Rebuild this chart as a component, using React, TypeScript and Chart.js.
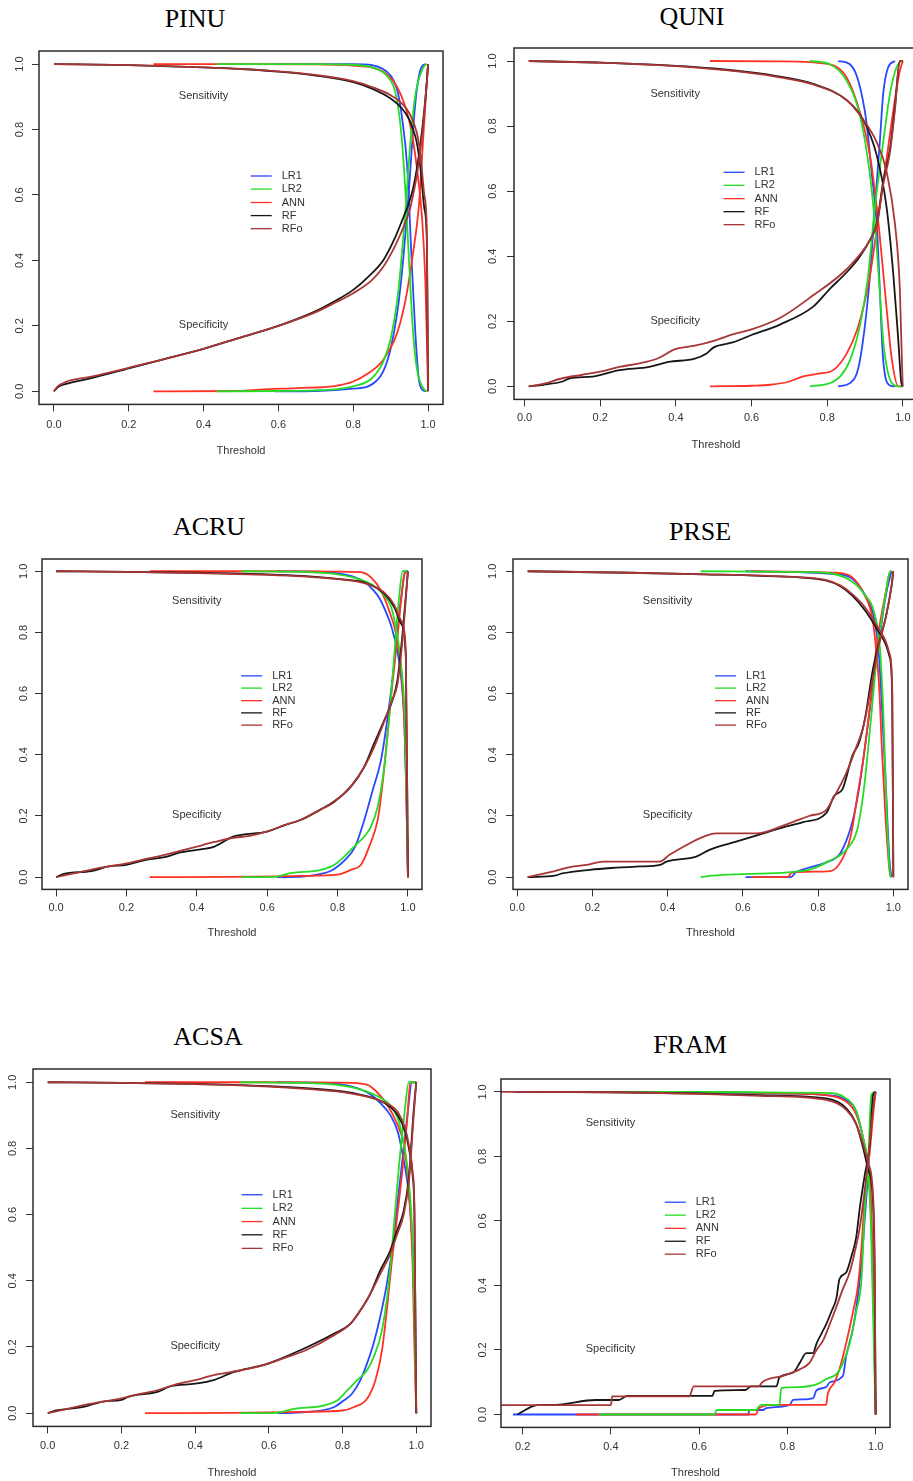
import React, { useEffect, useRef } from 'react';
import { Chart, registerables } from 'chart.js';

Chart.register(...registerables);
Chart.defaults.font.family = '"Liberation Sans", Arial, sans-serif';

// ---------------- tick labels ----------------
const TICKS_0_1 = [0, 0.2, 0.4, 0.6, 0.8, 1.0];
const TICKS_02_1 = [0.2, 0.4, 0.6, 0.8, 1.0];
const Y_TICKS = [0, 0.2, 0.4, 0.6, 0.8, 1.0];
const MODEL_NAMES = ['LR1', 'LR2', 'ANN', 'RF', 'RFo'];

// ---------------- PINU ----------------
const PINU_LR1_SENS = [[0.59,1],[0.8,1],[0.85,0.997],[0.88,0.985],[0.9,0.965],[0.91,0.945],[0.92,0.91],[0.93,0.84],[0.944,0.69],[0.957,0.38],[0.966,0.18],[0.975,0.04],[0.985,0.005],[0.995,0]];
const PINU_LR1_SPEC = [[0.59,0],[0.7,0.001],[0.8,0.008],[0.84,0.015],[0.86,0.03],[0.88,0.06],[0.9,0.13],[0.92,0.26],[0.935,0.42],[0.948,0.6],[0.957,0.75],[0.966,0.88],[0.975,0.96],[0.985,0.995],[0.995,1]];
const PINU_LR2_SENS = [[0.435,1],[0.7,1],[0.8,0.998],[0.85,0.99],[0.88,0.975],[0.9,0.95],[0.91,0.925],[0.92,0.87],[0.93,0.77],[0.94,0.6],[0.95,0.38],[0.96,0.18],[0.97,0.07],[0.98,0.025],[0.99,0.005],[0.997,0]];
const PINU_LR2_SPEC = [[0.435,0],[0.6,0.001],[0.7,0.003],[0.75,0.006],[0.8,0.015],[0.85,0.04],[0.88,0.09],[0.9,0.16],[0.92,0.3],[0.93,0.42],[0.94,0.56],[0.95,0.72],[0.96,0.85],[0.97,0.93],[0.98,0.97],[0.99,0.995],[0.997,1]];
const PINU_ANN_SENS = [[0.266,1],[0.5,1],[0.7,0.999],[0.8,0.995],[0.88,0.977],[0.926,0.91],[0.953,0.81],[0.97,0.685],[0.984,0.53],[0.993,0.33],[0.998,0.1],[1.0,0]];
const PINU_ANN_SPEC = [[0.266,0],[0.5,0.001],[0.55,0.005],[0.65,0.01],[0.75,0.016],[0.8,0.03],[0.84,0.055],[0.88,0.096],[0.917,0.177],[0.94,0.28],[0.957,0.4],[0.975,0.56],[0.988,0.79],[1.0,1]];
const PINU_RF_SENS = [[0,1],[0.2,0.997],[0.4,0.99],[0.5,0.985],[0.6,0.977],[0.7,0.965],[0.8,0.945],[0.85,0.925],[0.9,0.895],[0.93,0.865],[0.95,0.83],[0.96,0.8],[0.97,0.76],[0.98,0.68],[0.99,0.56],[0.997,0.45],[1.0,0]];
const PINU_RF_SPEC = [[0,0],[0.01,0.012],[0.03,0.022],[0.1,0.04],[0.2,0.07],[0.3,0.1],[0.4,0.13],[0.5,0.165],[0.6,0.2],[0.7,0.245],[0.75,0.275],[0.8,0.31],[0.84,0.35],[0.88,0.4],[0.91,0.465],[0.93,0.52],[0.95,0.58],[0.96,0.62],[0.97,0.68],[0.98,0.76],[0.99,0.86],[0.997,0.95],[1.0,1]];
const PINU_RFO_SENS = [[0,1],[0.2,0.997],[0.4,0.99],[0.6,0.978],[0.7,0.967],[0.8,0.948],[0.85,0.93],[0.9,0.905],[0.93,0.88],[0.95,0.85],[0.97,0.79],[0.98,0.72],[0.99,0.6],[0.997,0.48],[1.0,0]];
const PINU_RFO_SPEC = [[0,0],[0.01,0.015],[0.03,0.028],[0.1,0.045],[0.2,0.072],[0.3,0.1],[0.4,0.13],[0.5,0.165],[0.6,0.2],[0.7,0.242],[0.75,0.27],[0.8,0.3],[0.85,0.34],[0.88,0.38],[0.91,0.44],[0.93,0.49],[0.95,0.55],[0.96,0.6],[0.97,0.66],[0.98,0.74],[0.99,0.85],[0.997,0.95],[1.0,1]];

// ---------------- QUNI ----------------
const QUNI_LR1_SENS = [[0.829,1],[0.86,0.99],[0.882,0.94],[0.904,0.81],[0.918,0.65],[0.931,0.5],[0.939,0.3],[0.948,0.08],[0.966,0.003],[0.979,0]];
const QUNI_LR1_SPEC = [[0.829,0],[0.86,0.01],[0.882,0.055],[0.9,0.19],[0.913,0.34],[0.926,0.55],[0.939,0.75],[0.948,0.9],[0.961,0.98],[0.979,1]];
const QUNI_LR2_SENS = [[0.754,1],[0.807,0.99],[0.851,0.94],[0.887,0.83],[0.913,0.65],[0.926,0.5],[0.939,0.29],[0.948,0.14],[0.961,0.04],[0.975,0.005],[0.988,0],[0.996,0]];
const QUNI_LR2_SPEC = [[0.754,0],[0.807,0.01],[0.834,0.03],[0.86,0.08],[0.887,0.19],[0.908,0.34],[0.926,0.55],[0.948,0.75],[0.966,0.9],[0.983,0.98],[0.996,1]];
const QUNI_ANN_SENS = [[0.49,1],[0.675,0.999],[0.807,0.99],[0.851,0.95],[0.887,0.84],[0.913,0.71],[0.931,0.55],[0.944,0.4],[0.957,0.24],[0.97,0.09],[0.988,0],[1.0,0]];
const QUNI_ANN_SPEC = [[0.49,0],[0.6,0.002],[0.65,0.005],[0.7,0.015],[0.734,0.03],[0.781,0.04],[0.816,0.05],[0.851,0.1],[0.878,0.17],[0.895,0.24],[0.913,0.34],[0.939,0.55],[0.957,0.7],[0.975,0.85],[0.992,0.97],[1.0,1]];
const QUNI_RF_SENS = [[0.011,1],[0.2,0.995],[0.4,0.985],[0.5,0.977],[0.6,0.965],[0.675,0.952],[0.763,0.93],[0.851,0.88],[0.895,0.82],[0.931,0.71],[0.957,0.55],[0.975,0.34],[0.988,0.14],[0.996,0.01],[1.0,0]];
const QUNI_RF_SPEC = [[0.011,0],[0.05,0.005],[0.1,0.015],[0.12,0.025],[0.18,0.03],[0.25,0.05],[0.33,0.06],[0.38,0.075],[0.45,0.085],[0.48,0.1],[0.5,0.12],[0.55,0.135],[0.6,0.158],[0.675,0.19],[0.763,0.245],[0.807,0.3],[0.851,0.35],[0.887,0.4],[0.913,0.45],[0.931,0.5],[0.948,0.63],[0.966,0.73],[0.979,0.86],[0.992,1],[1.0,1]];
const QUNI_RFO_SENS = [[0.011,1],[0.2,0.995],[0.4,0.984],[0.5,0.975],[0.6,0.963],[0.675,0.95],[0.763,0.928],[0.851,0.88],[0.895,0.82],[0.931,0.75],[0.957,0.66],[0.979,0.5],[0.992,0.3],[0.999,0.02],[1.0,0]];
const QUNI_RFO_SPEC = [[0.011,0],[0.05,0.008],[0.1,0.025],[0.15,0.035],[0.2,0.045],[0.25,0.06],[0.3,0.07],[0.35,0.085],[0.4,0.115],[0.45,0.125],[0.5,0.14],[0.55,0.16],[0.6,0.175],[0.675,0.21],[0.763,0.28],[0.851,0.36],[0.913,0.45],[0.931,0.5],[0.948,0.62],[0.966,0.72],[0.979,0.85],[0.992,1],[1.0,1]];

// ---------------- ACRU ----------------
const ACRU_LR1_SENS = [[0.627,1],[0.75,0.998],[0.8,0.994],[0.85,0.98],[0.88,0.962],[0.9,0.94],[0.92,0.91],[0.94,0.86],[0.95,0.83],[0.96,0.79],[0.97,0.74],[0.98,0.66],[0.99,0.5],[0.995,0.3],[1.0,0]];
const ACRU_LR1_SPEC = [[0.627,0],[0.7,0.002],[0.75,0.01],[0.78,0.02],[0.8,0.035],[0.82,0.055],[0.85,0.1],[0.876,0.187],[0.9,0.285],[0.923,0.38],[0.942,0.52],[0.96,0.687],[0.974,0.85],[0.985,0.95],[0.992,1],[1.0,1]];
const ACRU_LR2_SENS = [[0.527,1],[0.7,0.998],[0.8,0.99],[0.85,0.978],[0.9,0.955],[0.93,0.925],[0.95,0.89],[0.96,0.85],[0.97,0.79],[0.98,0.7],[0.99,0.55],[0.995,0.35],[1.0,0]];
const ACRU_LR2_SPEC = [[0.527,0],[0.62,0.001],[0.667,0.013],[0.752,0.024],[0.79,0.04],[0.819,0.067],[0.847,0.1],[0.876,0.133],[0.895,0.165],[0.914,0.23],[0.933,0.361],[0.947,0.524],[0.96,0.709],[0.974,0.904],[0.985,1],[1.0,1]];
const ACRU_ANN_SENS = [[0.266,1],[0.6,1],[0.8,0.999],[0.866,0.997],[0.895,0.98],[0.923,0.937],[0.947,0.87],[0.966,0.796],[0.98,0.687],[0.99,0.5],[0.995,0.3],[1.0,0]];
const ACRU_ANN_SPEC = [[0.266,0],[0.5,0.001],[0.7,0.004],[0.8,0.008],[0.838,0.024],[0.866,0.04],[0.89,0.1],[0.914,0.187],[0.928,0.306],[0.942,0.47],[0.956,0.633],[0.97,0.78],[0.98,0.9],[0.99,0.99],[1.0,1]];
const ACRU_RF_SENS = [[0,1],[0.2,0.998],[0.4,0.995],[0.6,0.99],[0.7,0.985],[0.8,0.975],[0.885,0.96],[0.933,0.926],[0.961,0.883],[0.98,0.83],[0.994,0.72],[1.0,0]];
const ACRU_RF_SPEC = [[0,0],[0.02,0.01],[0.1,0.02],[0.15,0.035],[0.2,0.04],[0.25,0.055],[0.315,0.067],[0.35,0.08],[0.4,0.089],[0.45,0.1],[0.505,0.133],[0.6,0.149],[0.65,0.17],[0.695,0.187],[0.75,0.22],[0.79,0.247],[0.838,0.296],[0.876,0.361],[0.904,0.437],[0.933,0.513],[0.956,0.578],[0.97,0.643],[0.985,0.8],[1.0,1]];
const ACRU_RFO_SENS = [[0,1],[0.2,0.998],[0.4,0.994],[0.6,0.988],[0.7,0.983],[0.8,0.974],[0.885,0.958],[0.933,0.93],[0.961,0.89],[0.98,0.84],[0.994,0.74],[1.0,0]];
const ACRU_RFO_SPEC = [[0,0],[0.05,0.012],[0.1,0.025],[0.15,0.035],[0.2,0.045],[0.25,0.058],[0.3,0.07],[0.35,0.085],[0.4,0.1],[0.45,0.115],[0.5,0.128],[0.55,0.135],[0.6,0.15],[0.65,0.17],[0.7,0.19],[0.75,0.22],[0.79,0.245],[0.84,0.3],[0.876,0.36],[0.904,0.425],[0.933,0.51],[0.956,0.58],[0.97,0.63],[0.985,0.78],[1.0,1]];

// ---------------- PRSE ----------------
const PRSE_LR1_SENS = [[0.607,1],[0.85,0.99],[0.891,0.975],[0.926,0.92],[0.95,0.84],[0.962,0.72],[0.97,0.55],[0.98,0.3],[0.99,0.05],[0.995,0]];
const PRSE_LR1_SPEC = [[0.607,0],[0.728,0],[0.74,0.015],[0.772,0.03],[0.825,0.05],[0.86,0.08],[0.891,0.18],[0.909,0.29],[0.926,0.44],[0.944,0.61],[0.962,0.77],[0.98,0.92],[0.995,1]];
const PRSE_LR2_SENS = [[0.488,1],[0.7,0.998],[0.82,0.995],[0.891,0.966],[0.926,0.92],[0.948,0.87],[0.965,0.74],[0.974,0.52],[0.983,0.19],[0.992,0.005],[0.995,0]];
const PRSE_LR2_SPEC = [[0.488,0],[0.52,0.005],[0.6,0.01],[0.772,0.023],[0.825,0.05],[0.878,0.094],[0.905,0.16],[0.922,0.29],[0.94,0.51],[0.957,0.73],[0.975,0.89],[0.993,1],[0.995,1]];
const PRSE_ANN_SENS = [[0.622,1],[0.85,0.995],[0.891,0.98],[0.92,0.93],[0.944,0.85],[0.953,0.76],[0.962,0.63],[0.97,0.41],[0.979,0.2],[0.992,0.005],[0.995,0]];
const PRSE_ANN_SPEC = [[0.622,0],[0.72,0.001],[0.73,0.015],[0.833,0.02],[0.86,0.05],[0.886,0.13],[0.905,0.27],[0.922,0.4],[0.94,0.58],[0.957,0.77],[0.983,0.95],[0.992,1],[0.995,1]];
const PRSE_RF_SENS = [[0.028,1],[0.3,0.995],[0.5,0.99],[0.65,0.985],[0.82,0.97],[0.86,0.95],[0.891,0.92],[0.926,0.87],[0.962,0.8],[0.98,0.76],[0.99,0.72],[0.997,0.6],[1.0,0]];
const PRSE_RF_SPEC = [[0.028,0],[0.1,0.005],[0.12,0.012],[0.193,0.024],[0.25,0.03],[0.326,0.035],[0.38,0.04],[0.397,0.051],[0.476,0.067],[0.511,0.089],[0.582,0.116],[0.646,0.14],[0.7,0.16],[0.76,0.18],[0.822,0.21],[0.843,0.266],[0.865,0.288],[0.891,0.397],[0.909,0.44],[0.926,0.527],[0.944,0.668],[0.962,0.766],[0.98,0.85],[0.995,0.95],[1.0,1]];
const PRSE_RFO_SENS = [[0.028,1],[0.3,0.995],[0.5,0.99],[0.7,0.983],[0.82,0.972],[0.86,0.953],[0.891,0.925],[0.926,0.88],[0.962,0.81],[0.98,0.77],[0.99,0.73],[0.997,0.62],[1.0,0]];
const PRSE_RFO_SPEC = [[0.028,0],[0.1,0.02],[0.15,0.035],[0.185,0.04],[0.229,0.051],[0.379,0.051],[0.405,0.073],[0.458,0.11],[0.485,0.127],[0.529,0.143],[0.635,0.143],[0.723,0.176],[0.776,0.2],[0.822,0.22],[0.84,0.257],[0.874,0.338],[0.9,0.42],[0.92,0.49],[0.944,0.64],[0.962,0.76],[0.98,0.85],[0.995,0.95],[1.0,1]];

// ---------------- ACSA ----------------
const ACSA_LR1_SENS = [[0.623,1],[0.75,0.998],[0.8,0.993],[0.85,0.978],[0.88,0.96],[0.9,0.94],[0.93,0.9],[0.95,0.85],[0.96,0.8],[0.97,0.74],[0.98,0.66],[0.99,0.5],[0.995,0.3],[1.0,0]];
const ACSA_LR1_SPEC = [[0.623,0],[0.7,0.003],[0.776,0.018],[0.803,0.038],[0.825,0.058],[0.848,0.099],[0.866,0.149],[0.884,0.21],[0.902,0.29],[0.92,0.39],[0.939,0.532],[0.952,0.663],[0.966,0.8],[0.978,0.92],[0.988,1],[1.0,1]];
const ACSA_LR2_SENS = [[0.522,1],[0.7,0.998],[0.8,0.99],[0.85,0.978],[0.9,0.955],[0.93,0.93],[0.95,0.89],[0.96,0.85],[0.97,0.79],[0.98,0.7],[0.99,0.52],[0.995,0.3],[1.0,0]];
const ACSA_LR2_SPEC = [[0.522,0],[0.62,0.001],[0.667,0.013],[0.748,0.023],[0.785,0.038],[0.812,0.068],[0.839,0.099],[0.866,0.129],[0.884,0.169],[0.907,0.25],[0.925,0.39],[0.939,0.562],[0.952,0.733],[0.966,0.884],[0.98,1],[1.0,1]];
const ACSA_ANN_SENS = [[0.264,1],[0.6,1],[0.8,0.999],[0.866,0.993],[0.889,0.975],[0.92,0.934],[0.948,0.874],[0.966,0.814],[0.977,0.713],[0.99,0.45],[0.995,0.2],[1.0,0]];
const ACSA_ANN_SPEC = [[0.264,0],[0.5,0.001],[0.7,0.004],[0.8,0.008],[0.83,0.018],[0.866,0.043],[0.889,0.099],[0.907,0.19],[0.92,0.31],[0.934,0.461],[0.948,0.592],[0.962,0.73],[0.975,0.88],[0.984,1],[1.0,1]];
const ACSA_RF_SENS = [[0,1],[0.2,0.998],[0.4,0.995],[0.6,0.988],[0.7,0.982],[0.8,0.972],[0.85,0.962],[0.9,0.945],[0.93,0.925],[0.95,0.9],[0.97,0.85],[0.98,0.8],[0.99,0.72],[0.995,0.6],[1.0,0]];
const ACSA_RF_SPEC = [[0,0],[0.02,0.008],[0.05,0.012],[0.1,0.02],[0.15,0.035],[0.2,0.04],[0.22,0.05],[0.3,0.065],[0.33,0.08],[0.4,0.089],[0.45,0.1],[0.504,0.124],[0.595,0.149],[0.685,0.19],[0.776,0.24],[0.821,0.27],[0.848,0.31],[0.875,0.36],[0.902,0.431],[0.929,0.49],[0.948,0.552],[0.966,0.612],[0.98,0.713],[0.993,0.914],[1.0,1]];
const ACSA_RFO_SENS = [[0,1],[0.2,0.998],[0.4,0.994],[0.6,0.987],[0.7,0.98],[0.8,0.97],[0.85,0.96],[0.9,0.945],[0.93,0.93],[0.95,0.91],[0.97,0.86],[0.98,0.81],[0.99,0.73],[0.995,0.62],[1.0,0]];
const ACSA_RFO_SPEC = [[0,0],[0.05,0.012],[0.1,0.025],[0.15,0.035],[0.2,0.045],[0.25,0.058],[0.3,0.07],[0.35,0.088],[0.4,0.1],[0.45,0.115],[0.5,0.125],[0.55,0.135],[0.6,0.15],[0.65,0.17],[0.7,0.19],[0.776,0.235],[0.821,0.27],[0.848,0.31],[0.875,0.36],[0.902,0.42],[0.929,0.48],[0.948,0.54],[0.966,0.6],[0.98,0.7],[0.993,0.9],[1.0,1]];

// ---------------- FRAM ----------------
const FRAM_LR1_SENS = [[0.178,1],[0.6,0.999],[0.8,0.995],[0.888,0.99],[0.933,0.975],[0.956,0.94],[0.971,0.86],[0.983,0.76],[0.99,0.6],[0.996,0.3],[1.0,0]];
const FRAM_LR1_SPEC = [[0.178,0],[0.712,0],[0.713,0.014],[0.745,0.014],[0.752,0.02],[0.805,0.03],[0.813,0.045],[0.858,0.05],[0.866,0.075],[0.888,0.085],[0.896,0.1],[0.926,0.12],[0.933,0.18],[0.949,0.27],[0.96,0.37],[0.968,0.47],[0.975,0.6],[0.983,0.75],[0.99,0.9],[1.0,1]];
const FRAM_LR2_SENS = [[0.373,1],[0.6,1],[0.8,0.998],[0.888,0.997],[0.933,0.98],[0.956,0.94],[0.971,0.86],[0.983,0.76],[0.99,0.55],[0.996,0.2],[1.0,0]];
const FRAM_LR2_SPEC = [[0.373,0],[0.634,0],[0.64,0.014],[0.728,0.014],[0.74,0.03],[0.782,0.03],[0.786,0.082],[0.828,0.085],[0.873,0.097],[0.888,0.11],[0.911,0.125],[0.926,0.16],[0.941,0.22],[0.956,0.32],[0.968,0.42],[0.975,0.63],[0.983,0.78],[0.99,0.99],[1.0,1]];
const FRAM_ANN_SENS = [[0.32,1],[0.6,1],[0.8,0.995],[0.888,0.99],[0.933,0.97],[0.956,0.93],[0.971,0.86],[0.983,0.77],[0.99,0.65],[0.996,0.3],[1.0,0]];
const FRAM_ANN_SPEC = [[0.32,0],[0.728,0],[0.736,0.02],[0.766,0.03],[0.888,0.03],[0.891,0.06],[0.907,0.1],[0.918,0.14],[0.933,0.22],[0.949,0.32],[0.96,0.4],[0.968,0.52],[0.975,0.67],[0.987,0.82],[0.998,0.98],[1.0,1]];
const FRAM_RF_SENS = [[0.188,1],[0.4,0.999],[0.6,0.995],[0.737,0.99],[0.888,0.98],[0.933,0.95],[0.956,0.9],[0.971,0.83],[0.983,0.76],[0.994,0.66],[0.998,0.4],[1.0,0]];
const FRAM_RF_SPEC = [[0.188,0],[0.233,0.029],[0.275,0.03],[0.365,0.045],[0.418,0.045],[0.437,0.058],[0.63,0.058],[0.635,0.073],[0.705,0.076],[0.717,0.087],[0.775,0.087],[0.782,0.115],[0.813,0.13],[0.828,0.16],[0.843,0.19],[0.858,0.19],[0.866,0.22],[0.877,0.25],[0.888,0.28],[0.9,0.32],[0.911,0.36],[0.918,0.42],[0.933,0.44],[0.945,0.49],[0.956,0.55],[0.964,0.64],[0.975,0.74],[0.987,0.84],[0.994,0.99],[1.0,1]];
const FRAM_RFO_SENS = [[0.1,1],[0.4,0.999],[0.6,0.994],[0.737,0.988],[0.888,0.975],[0.933,0.945],[0.956,0.9],[0.971,0.84],[0.983,0.78],[0.994,0.68],[0.998,0.45],[1.0,0]];
const FRAM_RFO_SPEC = [[0.1,0.029],[0.4,0.029],[0.403,0.056],[0.577,0.056],[0.588,0.087],[0.735,0.087],[0.743,0.1],[0.79,0.12],[0.828,0.14],[0.85,0.16],[0.866,0.2],[0.881,0.23],[0.896,0.28],[0.91,0.33],[0.926,0.39],[0.941,0.44],[0.952,0.5],[0.964,0.58],[0.979,0.74],[0.998,0.99],[1.0,1]];

// ---------------- styles ----------------
const MODEL_STYLE: Record<string, { color: string; order: number }> = {
  LR1: { color: '#2748ff', order: 4 },
  LR2: { color: '#26dc26', order: 2 },
  ANN: { color: '#ff3024', order: 3 },
  RF: { color: '#161616', order: 1 },
  RFo: { color: '#a83636', order: 0 },
};

type Pts = number[][];
type Panel = {
  name: string;
  series: Record<string, [Pts, Pts]>;
  frame: { l: number; t: number; r: number; b: number };
  xMin: number; xMax: number; xTicks: number[];
  titleX: number; titleTop: number;
  tickLabelY: number; axisTitleY: number; yLabelX: number;
  labelX: number; sensY: number; specY: number;
  legendX: number; legendY: number[];
};

const LEGEND_ROWS = [0.658, 0.618, 0.577, 0.537, 0.497];

const PANELS: Panel[] = [
  {
    name: 'PINU',
    series: { LR1: [PINU_LR1_SENS, PINU_LR1_SPEC], LR2: [PINU_LR2_SENS, PINU_LR2_SPEC], ANN: [PINU_ANN_SENS, PINU_ANN_SPEC], RF: [PINU_RF_SENS, PINU_RF_SPEC], RFo: [PINU_RFO_SENS, PINU_RFO_SPEC] },
    frame: { l: 39, t: 51, r: 443, b: 404 }, xMin: -0.04, xMax: 1.04, xTicks: TICKS_0_1,
    titleX: 195, titleTop: 5.8, tickLabelY: 425, axisTitleY: 451, yLabelX: 20,
    labelX: 0.40, sensY: 0.902, specY: 0.203, legendX: 0.526, legendY: LEGEND_ROWS,
  },
  {
    name: 'QUNI',
    series: { LR1: [QUNI_LR1_SENS, QUNI_LR1_SPEC], LR2: [QUNI_LR2_SENS, QUNI_LR2_SPEC], ANN: [QUNI_ANN_SENS, QUNI_ANN_SPEC], RF: [QUNI_RF_SENS, QUNI_RF_SPEC], RFo: [QUNI_RFO_SENS, QUNI_RFO_SPEC] },
    frame: { l: 514, t: 48, r: 918, b: 399 }, xMin: -0.028, xMax: 1.04, xTicks: TICKS_0_1,
    titleX: 692, titleTop: 3.5, tickLabelY: 418, axisTitleY: 445, yLabelX: 493,
    labelX: 0.398, sensY: 0.90, specY: 0.202, legendX: 0.526, legendY: LEGEND_ROWS,
  },
  {
    name: 'ACRU',
    series: { LR1: [ACRU_LR1_SENS, ACRU_LR1_SPEC], LR2: [ACRU_LR2_SENS, ACRU_LR2_SPEC], ANN: [ACRU_ANN_SENS, ACRU_ANN_SPEC], RF: [ACRU_RF_SENS, ACRU_RF_SPEC], RFo: [ACRU_RFO_SENS, ACRU_RFO_SPEC] },
    frame: { l: 42, t: 559, r: 422, b: 889 }, xMin: -0.04, xMax: 1.04, xTicks: TICKS_0_1,
    titleX: 209, titleTop: 513.5, tickLabelY: 908, axisTitleY: 933, yLabelX: 24,
    labelX: 0.40, sensY: 0.902, specY: 0.202, legendX: 0.526, legendY: LEGEND_ROWS,
  },
  {
    name: 'PRSE',
    series: { LR1: [PRSE_LR1_SENS, PRSE_LR1_SPEC], LR2: [PRSE_LR2_SENS, PRSE_LR2_SPEC], ANN: [PRSE_ANN_SENS, PRSE_ANN_SPEC], RF: [PRSE_RF_SENS, PRSE_RF_SPEC], RFo: [PRSE_RFO_SENS, PRSE_RFO_SPEC] },
    frame: { l: 513, t: 559, r: 908, b: 889 }, xMin: -0.011, xMax: 1.039, xTicks: TICKS_0_1,
    titleX: 700, titleTop: 518.8, tickLabelY: 908, axisTitleY: 933, yLabelX: 493,
    labelX: 0.40, sensY: 0.902, specY: 0.202, legendX: 0.526, legendY: LEGEND_ROWS,
  },
  {
    name: 'ACSA',
    series: { LR1: [ACSA_LR1_SENS, ACSA_LR1_SPEC], LR2: [ACSA_LR2_SENS, ACSA_LR2_SPEC], ANN: [ACSA_ANN_SENS, ACSA_ANN_SPEC], RF: [ACSA_RF_SENS, ACSA_RF_SPEC], RFo: [ACSA_RFO_SENS, ACSA_RFO_SPEC] },
    frame: { l: 33, t: 1069, r: 431, b: 1426 }, xMin: -0.04, xMax: 1.04, xTicks: TICKS_0_1,
    titleX: 208, titleTop: 1023.5, tickLabelY: 1446, axisTitleY: 1473, yLabelX: 13,
    labelX: 0.40, sensY: 0.902, specY: 0.203, legendX: 0.526, legendY: [0.66, 0.619, 0.579, 0.539, 0.498],
  },
  {
    name: 'FRAM',
    series: { LR1: [FRAM_LR1_SENS, FRAM_LR1_SPEC], LR2: [FRAM_LR2_SENS, FRAM_LR2_SPEC], ANN: [FRAM_ANN_SENS, FRAM_ANN_SPEC], RF: [FRAM_RF_SENS, FRAM_RF_SPEC], RFo: [FRAM_RFO_SENS, FRAM_RFO_SPEC] },
    frame: { l: 501, t: 1079, r: 890, b: 1427 }, xMin: 0.151, xMax: 1.0325, xTicks: TICKS_02_1,
    titleX: 690, titleTop: 1032, tickLabelY: 1447, axisTitleY: 1473, yLabelX: 483,
    labelX: 0.399, sensY: 0.903, specY: 0.2025, legendX: 0.522, legendY: LEGEND_ROWS,
  },
];

const YW = 40;
const PAD_T = 14;
const PAD_R = 8;
const TICK_LEN = 7;
const FONT_SIZE = 11;
const TEXT_COLOR = '#333';

function PanelChart({ p }: { p: Panel }) {
  const ref = useRef<HTMLCanvasElement | null>(null);
  const f = p.frame;
  const XH = p.axisTitleY - f.b + 6.6;
  const cw = Math.round(f.r - f.l + YW + PAD_R);
  const ch = Math.round(f.b - f.t + PAD_T + XH);
  const xTickPad = p.tickLabelY - f.b - TICK_LEN - FONT_SIZE * 0.6;
  const yTickPad = f.l - TICK_LEN - 7.65 - p.yLabelX;

  useEffect(() => {
    if (!ref.current) return;
    const datasets: any[] = [];
    MODEL_NAMES.forEach((m) => {
      const st = MODEL_STYLE[m];
      const [sens, spec] = p.series[m];
      [sens, spec].forEach((pts, k) => {
        datasets.push({
          label: m + (k === 0 ? ' sensitivity' : ' specificity'),
          data: pts.map(([x, y]) => ({ x, y })),
          borderColor: st.color,
          backgroundColor: st.color,
          borderWidth: 1.8,
          pointRadius: 0,
          fill: false,
          cubicInterpolationMode: 'monotone',
          order: st.order,
        });
      });
    });

    const annot = {
      id: 'frameAndText',
      afterDatasetsDraw(chart: any) {
        const { ctx, chartArea: a, scales } = chart;
        const xs = scales.x, ys = scales.y;
        ctx.save();
        ctx.strokeStyle = '#2b2b2b';
        ctx.lineWidth = 1.5;
        ctx.strokeRect(a.left, a.top, a.right - a.left, a.bottom - a.top);
        ctx.font = `${FONT_SIZE}px "Liberation Sans", Arial, sans-serif`;
        ctx.fillStyle = TEXT_COLOR;
        ctx.textAlign = 'center';
        ctx.textBaseline = 'middle';
        ctx.fillText('Sensitivity', xs.getPixelForValue(p.labelX), ys.getPixelForValue(p.sensY));
        ctx.fillText('Specificity', xs.getPixelForValue(p.labelX), ys.getPixelForValue(p.specY));
        const lx = xs.getPixelForValue(p.legendX);
        MODEL_NAMES.forEach((m, i) => {
          const ly = ys.getPixelForValue(p.legendY[i]);
          ctx.strokeStyle = MODEL_STYLE[m].color;
          ctx.lineWidth = 1.3;
          ctx.beginPath();
          ctx.moveTo(lx, ly);
          ctx.lineTo(lx + 21, ly);
          ctx.stroke();
          ctx.textAlign = 'left';
          ctx.fillStyle = TEXT_COLOR;
          ctx.fillText(m, lx + 31, ly);
        });
        ctx.restore();
      },
    };

    const tickFont = { family: '"Liberation Sans", Arial, sans-serif', size: FONT_SIZE };
    const chart = new Chart(ref.current, {
      type: 'line',
      data: { datasets },
      options: {
        animation: false,
        responsive: false,
        maintainAspectRatio: false,
        devicePixelRatio: 1,
        events: [],
        layout: { padding: { top: PAD_T, right: PAD_R, left: 0, bottom: 0 } },
        plugins: { legend: { display: false }, tooltip: { enabled: false }, title: { display: false } },
        scales: {
          x: {
            type: 'linear',
            min: p.xMin,
            max: p.xMax,
            afterBuildTicks: (s: any) => { s.ticks = p.xTicks.map((v) => ({ value: v })); },
            afterFit: (s: any) => { s.height = XH; },
            grid: { display: true, drawOnChartArea: false, drawTicks: true, tickLength: TICK_LEN, color: '#333', lineWidth: 1 },
            border: { display: false },
            ticks: {
              autoSkip: false, maxRotation: 0, minRotation: 0, padding: xTickPad,
              font: tickFont, color: TEXT_COLOR,
              callback: (v: any) => Number(v).toFixed(1),
            },
            title: { display: true, text: 'Threshold', font: tickFont, color: TEXT_COLOR, padding: { top: 0, bottom: 0 } },
          },
          y: {
            type: 'linear',
            min: -0.04,
            max: 1.04,
            afterBuildTicks: (s: any) => { s.ticks = Y_TICKS.map((v) => ({ value: v })); },
            afterFit: (s: any) => { s.width = YW; },
            grid: { display: true, drawOnChartArea: false, drawTicks: true, tickLength: TICK_LEN, color: '#333', lineWidth: 1 },
            border: { display: false },
            ticks: {
              autoSkip: false, minRotation: 90, maxRotation: 90, crossAlign: 'center', padding: yTickPad,
              font: tickFont, color: TEXT_COLOR,
              callback: (v: any) => Number(v).toFixed(1),
            },
          },
        },
      } as any,
      plugins: [annot],
    });
    return () => chart.destroy();
  }, []);

  return (
    <>
      <div
        style={{
          position: 'absolute', left: p.titleX - 100, width: 200, top: p.titleTop,
          textAlign: 'center', fontFamily: '"Liberation Serif", "Times New Roman", serif',
          fontSize: 26, lineHeight: '26px', color: '#000',
        }}
      >
        {p.name}
      </div>
      <canvas
        ref={ref}
        width={cw}
        height={ch}
        style={{ position: 'absolute', left: f.l - YW, top: f.t - PAD_T, width: cw, height: ch }}
      />
    </>
  );
}

export default function App() {
  return (
    <div style={{ position: 'absolute', left: 0, top: 0, width: 913, height: 1481, overflow: 'hidden', background: '#fff' }}>
      {PANELS.map((p) => (
        <PanelChart key={p.name} p={p} />
      ))}
    </div>
  );
}
